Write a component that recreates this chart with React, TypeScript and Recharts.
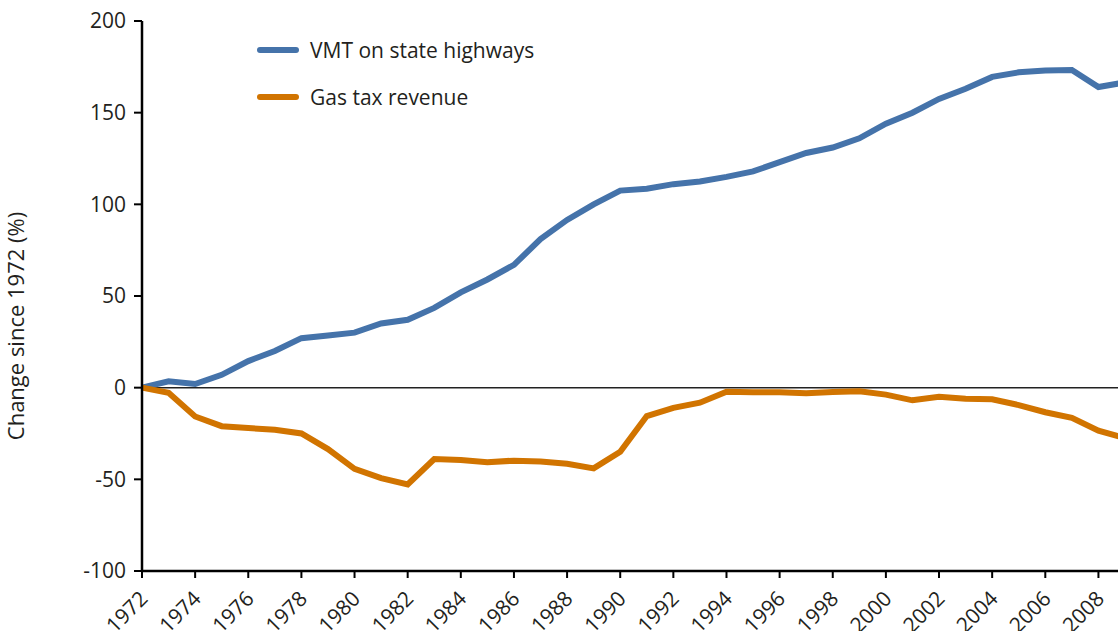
import React from "react";
import { LineChart, Line, XAxis, YAxis, ReferenceLine, Legend } from "recharts";

const years = [
  1972, 1973, 1974, 1975, 1976, 1977, 1978, 1979, 1980, 1981, 1982, 1983, 1984,
  1985, 1986, 1987, 1988, 1989, 1990, 1991, 1992, 1993, 1994, 1995, 1996, 1997,
  1998, 1999, 2000, 2001, 2002, 2003, 2004, 2005, 2006, 2007, 2008, 2009,
];

const vmtChange = [
  0, 3.5, 2, 7, 14.5, 20, 27, 28.5, 30, 35, 37, 43.5, 52, 59, 67, 81, 91.5, 100,
  107.5, 108.5, 111, 112.5, 115, 118, 123, 128, 131, 136, 144, 150, 157.5, 163,
  169.5, 172, 173, 173.3, 164, 166.5,
];

const gasTaxChange = [
  0, -2.8, -15.7, -21, -22, -23, -25, -33.5, -44.3, -49.3, -52.8, -38.9, -39.5,
  -40.7, -39.8, -40.3, -41.5, -44, -35, -15.5, -11, -8.2, -2.2, -2.5, -2.5, -3,
  -2.3, -2, -3.8, -6.9, -5, -6, -6.3, -9.5, -13.4, -16.5, -23.5, -27.5,
];

const seriesNames = ["VMT on state highways", "Gas tax revenue"];
const yTicks = [-100, -50, 0, 50, 100, 150, 200];
const xTicks = years.filter((y) => y % 2 === 0 && y <= 2008);

const data = years.map((year, i) => ({
  year,
  vmt: vmtChange[i],
  gasTax: gasTaxChange[i],
}));

const FONT = "'Open Sans', sans-serif";
const TEXT = "#231f20";
const BLUE = "#4573aa";
const ORANGE = "#d17400";

const YearTick = ({ x, y, payload }: any) => (
  <text
    x={x + 7}
    y={y + 20}
    transform={`rotate(-45, ${x + 7}, ${y + 20})`}
    textAnchor="end"
    fontSize={21}
    fontFamily={FONT}
    fill={TEXT}
  >
    {payload.value}
  </text>
);

const LegendContent = ({ payload }: any) => {
  if (!payload?.length) return null;
  const items = [...payload].sort(
    (a: any, b: any) => seriesNames.indexOf(a.value) - seriesNames.indexOf(b.value)
  );
  return (
    <div style={{ fontFamily: FONT, fontSize: 21, color: TEXT }}>
      {items.map((item: any) => (
        <div
          key={item.value}
          style={{ display: "flex", alignItems: "center", height: 47 }}
        >
          <span
            style={{
              display: "inline-block",
              width: 42,
              height: 6,
              borderRadius: 3,
              background: item.color,
              marginRight: 11,
            }}
          />
          {item.value}
        </div>
      ))}
    </div>
  );
};

export default function App() {
  return (
    <div
      style={{
        position: "fixed",
        left: 0,
        top: 0,
        width: 1118,
        height: 631,
        overflow: "hidden",
        background: "#fff",
      }}
    >
      <LineChart
        width={1125}
        height={631}
        data={data}
        margin={{ top: 21, right: 0, left: 0, bottom: 0 }}
      >
        <XAxis
          dataKey="year"
          type="number"
          domain={[1972, 2009]}
          ticks={xTicks}
          height={60}
          axisLine={{ stroke: "#000", strokeWidth: 2.5 }}
          tickLine={{ stroke: "#000", strokeWidth: 2 }}
          tickSize={7}
          tick={<YearTick />}
          interval={0}
        />
        <YAxis
          type="number"
          domain={[-100, 200]}
          ticks={yTicks}
          width={142}
          axisLine={{ stroke: "#000", strokeWidth: 2.5 }}
          tickLine={{ stroke: "#000", strokeWidth: 2 }}
          tickSize={8}
          tickMargin={8}
          tick={{ fontSize: 21, fontFamily: FONT, fill: TEXT }}
          label={{
            content: () => (
              <text
                x={24}
                y={326}
                transform="rotate(-90, 24, 326)"
                textAnchor="middle"
                fontSize={22}
                fontFamily={FONT}
                fill={TEXT}
              >
                Change since 1972 (%)
              </text>
            ),
          }}
        />
        <ReferenceLine y={0} stroke="#222" strokeWidth={1.5} />
        <Legend
          layout="vertical"
          align="center"
          verticalAlign="middle"
          itemSorter={null as any}
          content={<LegendContent />}
          wrapperStyle={{ left: 257, top: 26, width: 320, height: 94 }}
        />
        <Line
          type="linear"
          dataKey="vmt"
          name={seriesNames[0]}
          stroke={BLUE}
          strokeWidth={6}
          dot={false}
          isAnimationActive={false}
        />
        <Line
          type="linear"
          dataKey="gasTax"
          name={seriesNames[1]}
          stroke={ORANGE}
          strokeWidth={6}
          dot={false}
          isAnimationActive={false}
        />
      </LineChart>
    </div>
  );
}
